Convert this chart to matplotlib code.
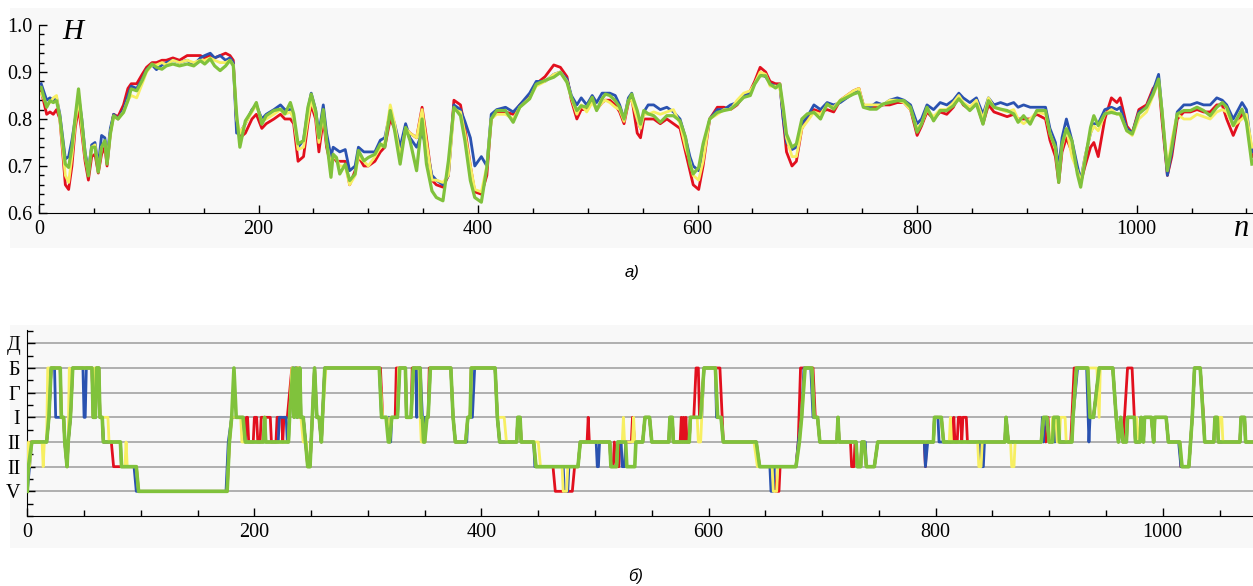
import numpy as np
import matplotlib.pyplot as plt
from matplotlib.patches import Rectangle
from matplotlib.ticker import MultipleLocator

# ---- panel a): H(n), four series on the same n nodes ----
n_top = [2, 7, 10, 13, 16, 19, 24, 27, 30, 33, 36, 39, 42, 45, 48, 51, 54, 57, 60, 62,
         65, 68, 72, 77, 81, 84, 89, 94, 98, 103, 107, 112, 116, 122, 128, 135, 141, 147, 151, 156,
         160, 165, 170, 174, 177, 180, 183, 188, 194, 198, 203, 207, 214, 220, 224, 229, 232, 236, 241, 245,
         248, 252, 255, 259, 262, 266, 268, 271, 274, 279, 283, 288, 291, 296, 300, 306, 311, 315, 320, 324,
         329, 334, 338, 344, 349, 353, 358, 362, 368, 373, 378, 384, 388, 393, 397, 403, 408, 412, 417, 425,
         432, 438, 447, 453, 461, 469, 475, 481, 485, 490, 494, 499, 504, 508, 513, 516, 520, 525, 529, 533,
         537, 540, 545, 548, 551, 555, 560, 566, 572, 578, 584, 589, 593, 596, 601, 605, 611, 618, 624, 630,
         636, 642, 648, 652, 657, 662, 666, 671, 675, 678, 681, 686, 690, 695, 700, 706, 712, 718, 724, 730,
         736, 742, 747, 751, 757, 763, 769, 775, 782, 788, 794, 800, 804, 809, 815, 821, 827, 833, 838, 842,
         848, 854, 860, 865, 870, 876, 882, 888, 892, 897, 903, 909, 917, 921, 926, 929, 932, 936, 941, 946,
         949, 953, 958, 961, 965, 971, 977, 982, 985, 991, 996, 1002, 1009, 1015, 1020, 1023, 1028, 1032, 1037, 1043,
         1049, 1055, 1061, 1067, 1073, 1078, 1082, 1088, 1096, 1100, 1105]

h_green = [.867, .825, .839, .835, .839, .804, .704, .697, .74, .804, .864, .796, .725, .679, .74, .74, .687, .74, .754, .704,
           .768, .807, .80, .814, .839, .864, .86, .882, .903, .917, .91, .906, .913, .917, .913, .917, .913, .924, .917, .928,
           .913, .903, .913, .925, .913, .811, .74, .796, .818, .835, .789, .807, .818, .821, .811, .835, .811, .747, .754, .825,
           .853, .818, .76, .82, .754, .676, .725, .718, .683, .704, .669, .683, .733, .711, .718, .725, .747, .74, .818, .775,
           .704, .782, .754, .69, .80, .704, .647, .633, .626, .711, .825, .807, .754, .669, .633, .623, .697, .80, .818, .818,
           .793, .825, .843, .874, .882, .889, .899, .878, .846, .818, .828, .825, .846, .818, .843, .853, .85, .839, .825, .80,
           .839, .853, .818, .789, .818, .811, .807, .793, .807, .807, .796, .761, .704, .683, .697, .747, .80, .814, .818, .821,
           .832, .846, .85, .874, .892, .892, .874, .866, .874, .825, .768, .74, .747, .80, .811, .814, .80, .832, .821, .839,
           .846, .853, .857, .825, .821, .821, .832, .835, .839, .839, .825, .772, .789, .825, .796, .818, .818, .828, .843, .832,
           .818, .832, .789, .839, .825, .821, .818, .811, .793, .807, .789, .818, .818, .768, .74, .665, .747, .779, .754, .683,
           .655, .711, .782, .807, .786, .811, .814, .811, .811, .775, .768, .811, .825, .853, .885, .818, .69, .74, .811, .818,
           .818, .825, .818, .807, .825, .835, .825, .786, .821, .793, .704]

h_red = [.86, .81, .815, .81, .82, .80, .66, .65, .70, .78, .825, .77, .71, .67, .72, .725, .685, .725, .74, .70,
         .77, .81, .805, .83, .865, .875, .875, .895, .91, .92, .92, .925, .925, .93, .925, .935, .935, .935, .93, .935,
         .93, .935, .94, .935, .925, .79, .76, .77, .80, .81, .78, .79, .80, .81, .80, .80, .79, .71, .72, .79,
         .83, .80, .73, .80, .74, .70, .72, .71, .71, .71, .66, .69, .72, .70, .70, .71, .73, .74, .80, .78,
         .72, .78, .77, .76, .825, .76, .67, .66, .655, .68, .84, .83, .78, .70, .645, .64, .68, .80, .815, .815,
         .81, .83, .85, .875, .89, .915, .91, .89, .84, .80, .82, .82, .84, .82, .835, .84, .84, .83, .815, .79,
         .835, .845, .77, .76, .80, .80, .80, .79, .80, .79, .78, .73, .69, .66, .65, .70, .80, .825, .825, .82,
         .83, .85, .86, .88, .91, .90, .88, .875, .875, .80, .73, .70, .71, .78, .80, .82, .815, .82, .815, .84,
         .85, .86, .865, .83, .825, .825, .83, .83, .835, .835, .82, .765, .785, .815, .80, .815, .81, .825, .85, .83,
         .82, .835, .79, .83, .815, .81, .805, .81, .80, .80, .80, .81, .80, .755, .72, .665, .73, .76, .73, .69,
         .665, .70, .74, .75, .72, .80, .845, .835, .845, .785, .77, .82, .83, .865, .88, .80, .68, .72, .80, .815,
         .815, .82, .815, .815, .83, .83, .80, .765, .81, .80, .72]

h_blue = [.875, .84, .845, .84, .845, .81, .715, .72, .755, .80, .85, .80, .73, .69, .745, .75, .70, .765, .76, .72,
          .78, .81, .80, .82, .85, .87, .865, .885, .905, .915, .905, .915, .92, .925, .92, .925, .915, .93, .935, .94,
          .93, .935, .925, .93, .92, .77, .77, .79, .82, .83, .80, .81, .82, .83, .82, .82, .80, .74, .755, .82,
          .855, .82, .77, .83, .77, .72, .74, .735, .73, .735, .69, .70, .74, .73, .73, .73, .755, .76, .815, .79,
          .74, .79, .76, .74, .77, .74, .68, .67, .66, .68, .83, .82, .795, .76, .70, .72, .70, .81, .82, .825,
          .815, .83, .855, .88, .88, .895, .90, .885, .85, .83, .845, .83, .85, .835, .855, .855, .855, .85, .83, .80,
          .845, .855, .80, .78, .815, .83, .83, .82, .825, .815, .80, .76, .72, .70, .69, .72, .80, .82, .82, .83,
          .835, .85, .855, .875, .895, .89, .875, .87, .87, .80, .75, .735, .74, .79, .805, .83, .82, .835, .83, .835,
          .845, .855, .86, .83, .825, .835, .83, .84, .845, .84, .83, .79, .80, .83, .82, .835, .83, .84, .855, .845,
          .835, .845, .81, .845, .83, .835, .83, .835, .825, .83, .825, .825, .825, .78, .75, .695, .76, .80, .755, .70,
          .67, .72, .77, .79, .79, .82, .825, .82, .825, .78, .77, .815, .825, .86, .895, .82, .68, .73, .815, .83,
          .83, .835, .83, .83, .845, .84, .83, .80, .835, .82, .73]

h_yellow = [.855, .83, .835, .845, .85, .80, .68, .665, .72, .79, .845, .78, .72, .685, .74, .745, .69, .74, .75, .71,
            .77, .805, .80, .815, .84, .85, .845, .875, .90, .915, .915, .92, .915, .925, .92, .925, .92, .925, .925, .93,
            .925, .92, .92, .925, .915, .80, .77, .79, .815, .83, .795, .80, .81, .82, .81, .815, .80, .735, .74, .80,
            .84, .81, .75, .81, .75, .70, .72, .715, .70, .70, .66, .68, .72, .71, .70, .72, .74, .75, .83, .79,
            .72, .78, .77, .76, .82, .75, .67, .67, .665, .68, .82, .815, .77, .70, .65, .645, .70, .80, .81, .81,
            .80, .825, .845, .87, .88, .895, .90, .88, .845, .81, .83, .815, .835, .82, .835, .84, .835, .825, .82, .795,
            .84, .84, .80, .78, .81, .81, .815, .81, .815, .82, .79, .74, .71, .68, .67, .71, .80, .81, .82, .82,
            .84, .855, .86, .875, .90, .895, .87, .87, .865, .82, .76, .72, .72, .78, .795, .815, .81, .83, .825, .84,
            .85, .86, .865, .83, .83, .83, .83, .84, .84, .835, .82, .78, .79, .82, .805, .82, .82, .835, .85, .835,
            .825, .84, .80, .845, .825, .82, .815, .82, .80, .79, .80, .815, .81, .77, .735, .68, .74, .78, .72, .69,
            .665, .72, .77, .785, .775, .81, .82, .81, .81, .775, .765, .80, .815, .85, .88, .82, .695, .755, .81, .80,
            .80, .81, .805, .80, .815, .82, .815, .785, .80, .81, .74]

# ---- panel б): level of each series, vertices (n, level) ----
level_labels = ['V', 'II', 'II', 'I', 'Г', 'Б', 'Д']

green_steps = [(0, 1), (1, 2), (4, 3), (17, 3), (19, 4), (21, 6), (29, 6), (30, 4), (32, 4), (33, 3), (35, 2), (36, 3),
               (38, 4), (40, 6), (57, 6), (58, 4), (60, 4), (61, 6), (63, 6), (64, 4), (66, 4), (67, 3), (82, 3), (83, 2),
               (96, 2), (98, 1), (176, 1), (178, 3), (180, 4), (182, 6), (184, 4), (190, 4), (192, 3), (208, 3), (209, 4),
               (210, 3), (230, 3), (231, 4), (234, 6), (235, 4), (237, 6), (238, 4), (240, 6), (241, 4), (243, 4), (245, 3),
               (247, 2), (249, 2), (250, 3), (251, 4), (253, 6), (255, 4), (257, 4), (259, 3), (260, 4), (262, 6), (310, 6),
               (312, 4), (316, 4), (318, 3), (319, 3), (321, 4), (326, 4), (328, 6), (333, 6), (334, 4), (338, 4), (340, 6),
               (346, 6), (347, 4), (348, 4), (349, 3), (350, 3), (352, 4), (353, 4), (355, 6), (373, 6), (375, 4), (377, 3),
               (386, 3), (388, 4), (390, 4), (391, 6), (412, 6), (414, 4), (416, 3), (431, 3), (432, 4), (434, 4), (435, 3),
               (446, 3), (448, 2), (485, 2), (487, 3), (513, 3), (514, 2), (519, 2), (520, 3), (527, 3), (528, 2), (535, 2),
               (536, 3), (542, 3), (544, 4), (548, 4), (550, 3), (565, 3), (566, 4), (568, 4), (569, 3), (583, 3), (584, 4),
               (593, 4), (596, 6), (606, 6), (608, 4), (611, 4), (613, 3), (642, 3), (645, 2), (677, 2), (680, 3), (682, 4),
               (685, 6), (691, 6), (693, 4), (696, 4), (698, 3), (713, 3), (714, 4), (715, 3), (730, 3), (731, 2), (734, 2),
               (735, 3), (737, 3), (739, 2), (746, 2), (749, 3), (798, 3), (799, 4), (805, 4), (807, 3), (861, 3), (862, 4),
               (864, 3), (893, 3), (895, 4), (898, 4), (900, 3), (903, 3), (904, 4), (908, 4), (909, 3), (920, 3), (921, 4),
               (924, 6), (934, 6), (936, 4), (939, 4), (944, 6), (956, 6), (959, 4), (961, 3), (963, 4), (965, 3), (968, 3),
               (969, 4), (975, 4), (976, 3), (980, 3), (981, 4), (983, 3), (984, 4), (990, 4), (992, 3), (993, 4), (1003, 4),
               (1005, 3), (1015, 3), (1017, 2), (1023, 2), (1026, 4), (1028, 6), (1033, 6), (1037, 3), (1045, 3), (1046, 4),
               (1048, 4), (1049, 3), (1068, 3), (1069, 4), (1072, 4), (1073, 3), (1080, 3)]

red_steps = [(0, 2), (3, 3), (17, 3), (19, 4), (21, 6), (29, 6), (30, 4), (32, 4), (33, 3), (35, 2), (36, 3), (38, 4),
             (40, 6), (57, 6), (58, 4), (60, 4), (61, 6), (63, 6), (64, 4), (66, 4), (67, 3), (74, 3), (76, 2), (96, 2),
             (98, 1), (176, 1), (178, 3), (180, 4), (184, 4), (190, 4), (192, 3), (193, 4), (194, 4), (195, 3), (199, 3),
             (200, 4), (202, 4), (203, 3), (205, 3), (206, 4), (214, 4), (215, 3), (219, 3), (220, 4), (224, 4), (225, 3),
             (226, 4), (229, 4), (233, 6), (235, 4), (236, 6), (239, 6), (240, 4), (243, 4), (245, 3), (247, 2), (249, 2),
             (250, 3), (251, 4), (253, 6), (255, 4), (257, 4), (259, 3), (260, 4), (262, 6), (311, 6), (313, 4), (317, 4),
             (319, 3), (320, 4), (324, 4), (325, 6), (333, 6), (334, 4), (338, 4), (339, 6), (346, 6), (347, 4), (349, 4),
             (350, 3), (351, 4), (353, 4), (354, 6), (373, 6), (375, 4), (377, 3), (386, 3), (388, 4), (390, 4), (391, 6),
             (412, 6), (414, 4), (416, 3), (431, 3), (432, 4), (434, 4), (435, 3), (446, 3), (448, 2), (463, 2), (465, 1),
             (480, 1), (482, 2), (485, 2), (487, 3), (493, 3), (494, 4), (495, 3), (513, 3), (514, 2), (516, 2), (517, 3),
             (519, 2), (521, 2), (522, 3), (532, 3), (533, 4), (535, 3), (542, 3), (544, 4), (548, 4), (550, 3), (565, 3),
             (566, 4), (568, 4), (569, 3), (575, 3), (576, 4), (577, 3), (578, 4), (579, 3), (580, 4), (581, 3), (583, 3),
             (584, 4), (587, 4), (589, 6), (591, 6), (592, 4), (593, 4), (596, 6), (610, 6), (612, 4), (613, 3), (642, 3),
             (645, 2), (657, 2), (659, 1), (662, 1), (663, 2), (677, 2), (679, 3), (681, 6), (692, 6), (694, 4), (696, 4),
             (698, 3), (713, 3), (714, 4), (715, 3), (725, 3), (726, 2), (728, 2), (729, 3), (730, 3), (731, 2), (734, 2),
             (735, 3), (737, 3), (739, 2), (746, 2), (749, 3), (790, 3), (791, 2), (792, 3), (798, 3), (799, 4), (805, 4),
             (807, 3), (815, 3), (816, 4), (817, 3), (819, 3), (820, 4), (822, 4), (823, 3), (824, 4), (827, 4), (828, 3),
             (861, 3), (862, 4), (864, 3), (893, 3), (895, 4), (897, 3), (899, 4), (900, 3), (903, 3), (904, 4), (908, 4),
             (909, 3), (919, 3), (920, 4), (922, 6), (934, 6), (936, 4), (939, 4), (944, 6), (956, 6), (959, 4), (961, 3),
             (963, 4), (965, 3), (969, 6), (973, 6), (975, 4), (976, 3), (980, 3), (981, 4), (983, 3), (984, 4), (990, 4),
             (992, 3), (993, 4), (1003, 4), (1005, 3), (1015, 3), (1016, 2), (1023, 2), (1026, 4), (1028, 6), (1033, 6),
             (1036, 4), (1037, 3), (1045, 3), (1046, 4), (1048, 4), (1049, 3), (1068, 3), (1069, 4), (1072, 4), (1073, 3),
             (1080, 3)]

blue_steps = [(0, 1), (2, 2), (4, 3), (17, 3), (19, 4), (21, 6), (24, 6), (25, 4), (30, 4), (32, 4), (33, 3), (35, 2),
              (36, 3), (38, 4), (40, 6), (49, 6), (50, 4), (51, 4), (52, 6), (57, 6), (58, 4), (60, 4), (61, 6), (63, 6),
              (64, 4), (66, 4), (67, 3), (82, 3), (83, 2), (94, 2), (96, 1), (175, 1), (177, 3), (180, 4), (190, 4),
              (192, 3), (208, 3), (209, 4), (210, 3), (221, 3), (222, 4), (228, 4), (229, 3), (230, 3), (231, 4), (234, 6),
              (236, 6), (237, 4), (240, 6), (241, 4), (243, 4), (245, 3), (248, 2), (249, 2), (250, 3), (251, 4), (253, 6),
              (255, 4), (257, 4), (259, 3), (260, 4), (262, 6), (310, 6), (312, 4), (319, 4), (320, 3), (321, 4), (326, 4),
              (328, 6), (333, 6), (334, 4), (338, 4), (340, 6), (342, 6), (343, 4), (344, 6), (346, 6), (348, 4), (349, 3),
              (350, 4), (353, 4), (355, 6), (373, 6), (375, 4), (377, 3), (387, 3), (388, 4), (392, 4), (394, 6), (412, 6),
              (414, 4), (416, 3), (431, 3), (432, 4), (434, 4), (435, 3), (446, 3), (447, 2), (472, 2), (473, 1), (476, 1),
              (477, 2), (485, 2), (487, 3), (501, 3), (502, 2), (503, 2), (504, 3), (513, 3), (514, 2), (519, 2), (520, 3),
              (523, 3), (524, 2), (526, 2), (527, 3), (542, 3), (544, 4), (548, 4), (550, 3), (565, 3), (566, 4), (568, 4),
              (569, 3), (583, 3), (584, 4), (594, 4), (596, 6), (606, 6), (607, 4), (611, 4), (613, 3), (642, 3), (644, 2),
              (654, 2), (655, 1), (657, 1), (658, 2), (677, 2), (679, 3), (682, 4), (684, 6), (690, 6), (692, 4), (696, 4),
              (698, 3), (713, 3), (714, 4), (715, 3), (730, 3), (731, 2), (734, 2), (735, 3), (738, 3), (739, 2), (746, 2),
              (749, 3), (790, 3), (791, 2), (793, 3), (798, 3), (799, 4), (802, 4), (803, 3), (839, 3), (840, 2), (842, 2),
              (843, 3), (861, 3), (862, 4), (864, 3), (893, 3), (894, 4), (895, 3), (896, 4), (898, 4), (900, 3), (903, 3),
              (904, 4), (905, 3), (906, 4), (908, 4), (909, 3), (920, 3), (921, 4), (925, 6), (933, 6), (935, 3), (936, 4),
              (939, 4), (944, 6), (956, 6), (959, 4), (961, 3), (963, 4), (965, 3), (968, 3), (969, 4), (975, 4), (976, 3),
              (980, 3), (981, 4), (983, 3), (984, 4), (990, 4), (992, 3), (993, 4), (1003, 4), (1005, 3), (1014, 3),
              (1016, 2), (1023, 2), (1026, 4), (1028, 6), (1033, 6), (1037, 3), (1045, 3), (1046, 4), (1048, 4), (1049, 3),
              (1068, 3), (1069, 4), (1072, 4), (1073, 3), (1080, 3)]

yellow_steps = [(0, 2), (1, 3), (2, 2), (4, 3), (13, 3), (14, 2), (15, 3), (17, 3), (18, 6), (29, 6), (30, 4), (32, 4),
                (33, 3), (35, 2), (36, 3), (37, 6), (38, 4), (40, 6), (57, 6), (58, 4), (59, 6), (63, 6), (64, 4), (71, 4),
                (72, 3), (82, 3), (83, 2), (86, 2), (87, 3), (88, 2), (96, 2), (98, 1), (176, 1), (178, 3), (180, 4),
                (188, 4), (189, 3), (208, 3), (209, 4), (210, 3), (230, 3), (231, 4), (233, 6), (235, 4), (237, 6), (240, 6),
                (241, 4), (243, 3), (246, 3), (247, 2), (249, 2), (250, 3), (251, 4), (253, 6), (255, 4), (258, 4), (259, 3),
                (260, 4), (263, 6), (310, 6), (313, 4), (317, 4), (319, 3), (320, 4), (326, 4), (327, 6), (333, 6), (334, 4),
                (338, 4), (340, 6), (345, 6), (346, 4), (347, 3), (350, 3), (352, 4), (353, 4), (355, 6), (373, 6), (375, 4),
                (377, 3), (386, 3), (388, 4), (390, 4), (391, 6), (412, 6), (414, 4), (420, 4), (422, 3), (431, 3), (432, 4),
                (434, 4), (435, 3), (450, 3), (452, 2), (471, 2), (472, 1), (475, 1), (476, 2), (485, 2), (487, 3), (513, 3),
                (514, 2), (519, 2), (520, 3), (524, 3), (525, 4), (526, 3), (533, 3), (534, 4), (535, 3), (542, 3), (544, 4),
                (548, 4), (550, 3), (565, 3), (566, 4), (568, 4), (569, 3), (583, 3), (584, 4), (590, 4), (591, 3), (593, 3),
                (596, 6), (606, 6), (608, 4), (611, 4), (613, 3), (640, 3), (643, 2), (656, 2), (657, 1), (660, 1), (661, 2),
                (677, 2), (680, 3), (682, 4), (685, 6), (691, 6), (693, 4), (696, 4), (698, 3), (713, 3), (714, 4), (715, 3),
                (730, 3), (731, 2), (734, 2), (735, 3), (737, 3), (739, 2), (746, 2), (749, 3), (798, 3), (799, 4), (805, 4),
                (807, 3), (812, 3), (813, 4), (814, 3), (837, 3), (838, 2), (840, 2), (841, 3), (861, 3), (862, 4), (864, 3),
                (866, 3), (867, 2), (869, 2), (870, 3), (893, 3), (895, 4), (898, 4), (900, 3), (902, 3), (903, 4), (906, 4),
                (907, 3), (909, 3), (910, 4), (914, 4), (915, 3), (920, 3), (921, 4), (924, 6), (942, 6), (944, 4), (945, 6),
                (956, 6), (959, 4), (961, 3), (963, 4), (965, 3), (968, 3), (969, 4), (975, 4), (976, 3), (977, 4), (979, 3),
                (980, 3), (981, 4), (983, 3), (984, 4), (990, 4), (992, 3), (993, 4), (1003, 4), (1005, 3), (1015, 3),
                (1017, 2), (1023, 2), (1026, 4), (1028, 6), (1033, 6), (1037, 3), (1045, 3), (1046, 4), (1048, 4), (1049, 3),
                (1050, 4), (1052, 4), (1053, 3), (1068, 3), (1069, 4), (1072, 4), (1073, 3), (1080, 3)]

RED, BLUE, YELLOW, GREEN = '#e2101e', '#2a52b0', '#f7ef62', '#80c23c'
SERIF = 'Liberation Serif'

fig = plt.figure(figsize=(12.53, 5.86), dpi=100)
W, Hpx = 1253, 586

# faint panel backgrounds, kept under the axes
for x0, y0, x1, y1 in [(10, 8, 1253, 248), (10, 325, 1253, 548)]:
    fig.patches.append(Rectangle((x0 / W, 1 - y1 / Hpx), (x1 - x0) / W, (y1 - y0) / Hpx,
                                 transform=fig.transFigure, facecolor='#f8f8f8', edgecolor='none', zorder=-10))

# ---------- top panel ----------
ax1 = fig.add_axes([39 / W, 1 - 213 / Hpx, (W - 39) / W, 188 / Hpx])
ax1.set_zorder(5)
ax1.patch.set_alpha(0)
for vals, col in [(h_red, RED), (h_blue, BLUE), (h_yellow, YELLOW), (h_green, GREEN)]:
    ax1.plot(n_top, vals, color=col, lw=2.0 if col != GREEN else 2.3, solid_joinstyle='round')
ax1.set_xlim(0, 1106)
ax1.set_ylim(0.6, 1.0)
ax1.xaxis.set_major_locator(MultipleLocator(200))
ax1.xaxis.set_minor_locator(MultipleLocator(50))
ax1.yaxis.set_major_locator(MultipleLocator(0.1))
ax1.yaxis.set_minor_locator(MultipleLocator(0.02))
ax1.yaxis.set_major_formatter(plt.FuncFormatter(lambda v, p: f'{v:.1f}'))
for s in ['top', 'right']:
    ax1.spines[s].set_visible(False)
ax1.tick_params(which='both', direction='in', labelsize=14.5, width=1)
ax1.tick_params(which='major', length=6, pad=5)
ax1.tick_params(which='minor', length=3.5)
for lab in ax1.get_xticklabels() + ax1.get_yticklabels():
    lab.set_family(SERIF)
fig.text(62 / W, 1 - 32 / Hpx, 'H', family=SERIF, style='italic', fontsize=21, va='center', ha='left')
fig.text(1242 / W, 1 - 228 / Hpx, 'n', family=SERIF, style='italic', fontsize=22, va='center', ha='center')
fig.text(632 / W, 1 - 272 / Hpx, 'а)', family='Liberation Sans', style='italic', fontsize=12, va='center', ha='center')

# ---------- bottom panel ----------
ax2 = fig.add_axes([27.3 / W, 1 - 516 / Hpx, (W - 27.3) / W, 186 / Hpx])
ax2.set_zorder(5)
ax2.patch.set_alpha(0)
for lv in range(1, 8):
    ax2.axhline(lv, color='#aaaaaa', lw=1.3, zorder=1)
for steps, col in [(red_steps, RED), (blue_steps, BLUE), (yellow_steps, YELLOW), (green_steps, GREEN)]:
    xs = [p[0] for p in steps]
    ys = [p[1] for p in steps]
    ax2.plot(xs, ys, color=col, lw=2.0 if col != GREEN else 2.6, zorder=3)
ax2.set_xlim(0, 1079.5)
ax2.set_ylim(0, 7.54)
ax2.xaxis.set_major_locator(MultipleLocator(200))
ax2.xaxis.set_minor_locator(MultipleLocator(50))
ax2.set_yticks(range(1, 8))
ax2.set_yticklabels(level_labels)
ax2.yaxis.set_minor_locator(MultipleLocator(0.5))
for s in ['top', 'right']:
    ax2.spines[s].set_visible(False)
ax2.tick_params(which='both', direction='in', labelsize=14.5, width=1)
ax2.tick_params(which='major', length=6, pad=5)
ax2.tick_params(which='minor', length=4)
for lab in ax2.get_xticklabels() + ax2.get_yticklabels():
    lab.set_family(SERIF)
fig.text(636 / W, 1 - 576 / Hpx, 'б)', family='Liberation Sans', style='italic', fontsize=12, va='center', ha='center')

fig.savefig('out.png', dpi=100)
